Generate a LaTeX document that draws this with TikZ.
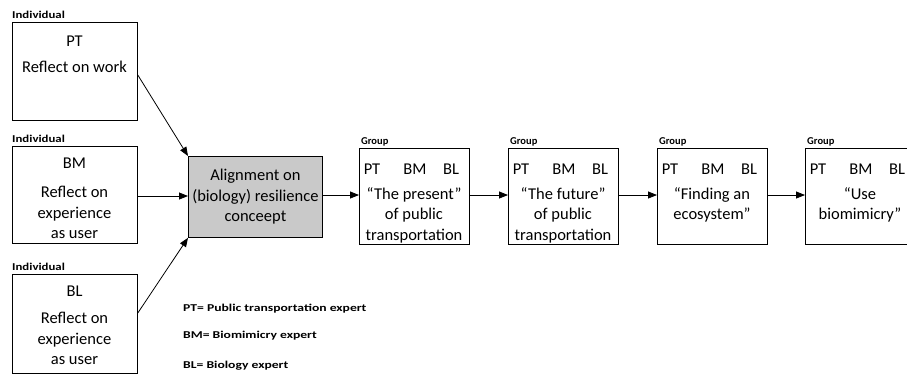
\documentclass[tikz,border=0pt]{standalone}
\usepackage{fontspec}
\setmainfont{Carlito}
\usetikzlibrary{arrows.meta}
\tikzset{
  box/.style={draw=black, line width=0.8pt, inner sep=0pt, anchor=north west},
  txt/.style={inner sep=0pt, align=center, anchor=north, font=\fontsize{16.5}{20.5}\selectfont},
  lab/.style={inner sep=0pt, anchor=base west, font=\bfseries\fontsize{10.5}{12}\selectfont},
  leg/.style={inner sep=0pt, anchor=base west, font=\bfseries\fontsize{10.5}{12}\selectfont},
  arr/.style={draw=black, line width=0.8pt, -{Triangle[length=9pt,width=7pt]}}
}
\begin{document}
\begin{tikzpicture}[x=1pt,y=-1pt]
\useasboundingbox (0,0) rectangle (907,376);
% individual boxes
\node[box, minimum width=125pt, minimum height=98pt] (i1) at (12,22) {};
\node[box, minimum width=125pt, minimum height=97pt] (i2) at (12,146) {};
\node[box, minimum width=125pt, minimum height=99pt] (i3) at (12,274) {};
\node[lab] (l1) at (12,18) {\scalebox{1.22}[1]{Individual}};
\node[lab] (l2) at (12,142) {\scalebox{1.22}[1]{Individual}};
\node[lab] (l3) at (12,270) {\scalebox{1.22}[1]{Individual}};
\node[txt] (t1a) at (74.5,36) {PT};
\node[txt] (t1b) at (74.5,61) {Reflect on work};
\node[txt] (t2a) at (74.5,158) {BM};
\node[txt] (t2b) at (74.5,186) {Reflect on\\experience\\as user};
\node[txt] (t3a) at (74.5,286) {BL};
\node[txt] (t3b) at (74.5,312) {Reflect on\\experience\\as user};
% alignment
\node[box, fill=gray!42, minimum width=134pt, minimum height=81pt] (al) at (188,156) {};
\node[txt] (alt) at (al.center) [anchor=center] {Alignment on\\(biology) resilience\\conceept};
% group boxes
\foreach \n/\x in {g1/359, g2/508, g3/657, g4/805}{
  \node[box, minimum width=110pt, minimum height=96pt] (\n) at (\x,148) {};
  \node[lab] (\n l) at (\x+2,144) {Group};
  \node[txt] (\n pt) at (\x+13,164) {PT};
  \node[txt] (\n bm) at (\x+56,164) {BM};
  \node[txt] (\n bl) at (\x+92,164) {BL};
}
\node[txt] (g1t) at (414,187) {“The present”\\of public\\transportation};
\node[txt] (g2t) at (563,187) {“The future”\\of public\\transportation};
\node[txt] (g3t) at (712,187) {“Finding an\\ecosystem”};
\node[txt] (g4t) at (860,187) {“Use\\biomimicry”};
% arrows
\draw[arr] (i1.east |- 0,75) -- (al.north west);
\draw[arr] (i2.east |- 0,196) -- (al.west |- 0,196);
\draw[arr] (i3.east |- 0,313) -- (al.south west);
\draw[arr] (al.east |- 0,195) -- (g1.west |- 0,195);
\draw[arr] (g1.east |- 0,195) -- (g2.west |- 0,195);
\draw[arr] (g2.east |- 0,195) -- (g3.west |- 0,195);
\draw[arr] (g3.east |- 0,195) -- (g4.west |- 0,195);
% legend
\node[leg] (lg1) at (183,311) {\scalebox{1.3}[1]{PT= Public transportation expert}};
\node[leg] (lg2) at (183,338) {\scalebox{1.3}[1]{BM= Biomimicry expert}};
\node[leg] (lg3) at (183,368) {\scalebox{1.3}[1]{BL= Biology expert}};
\end{tikzpicture}
\end{document}
